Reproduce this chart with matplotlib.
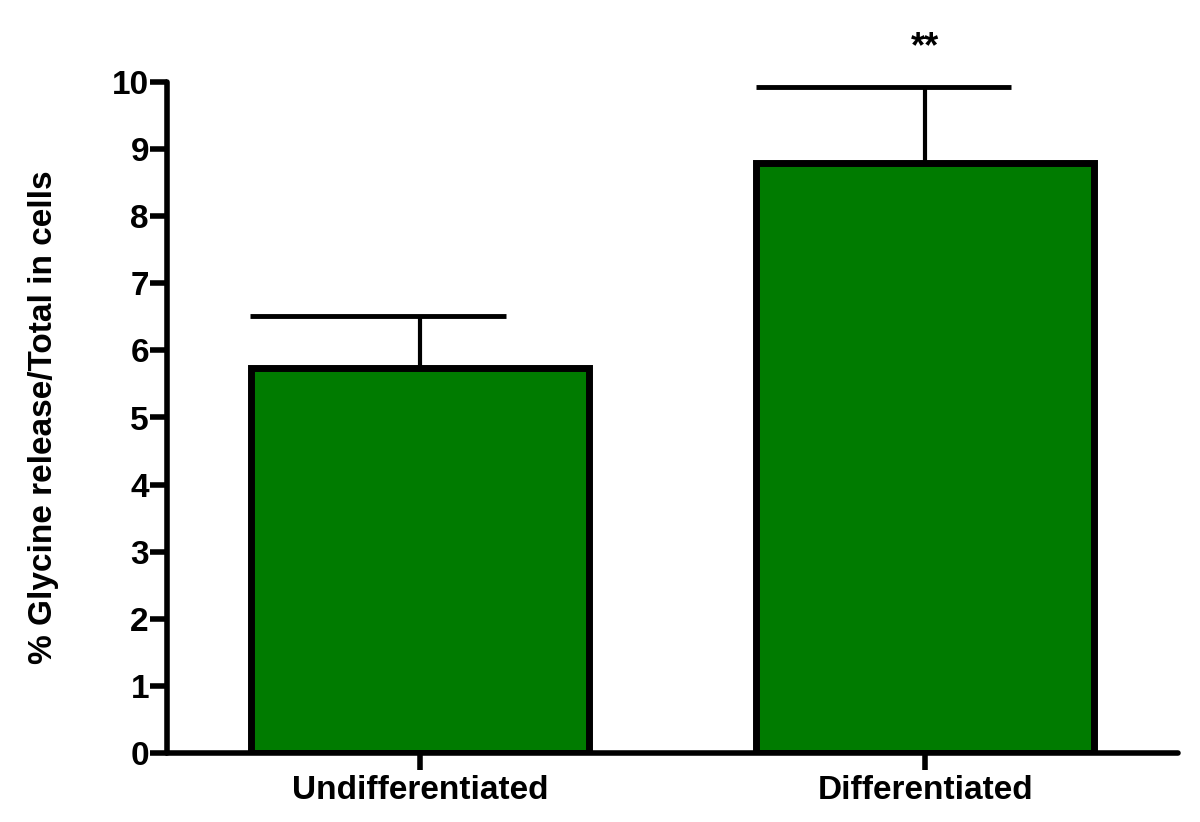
import matplotlib
matplotlib.use("Agg")
import matplotlib.pyplot as plt

categories = ["Undifferentiated", "Differentiated"]
values = [5.74, 8.79]
errors = [0.77, 1.14]
yticks = list(range(0, 11))
annotation = "**"

plt.rcParams['font.family'] = ['Liberation Sans', 'DejaVu Sans']
plt.rcParams['font.weight'] = 'bold'

fig = plt.figure(figsize=(12, 8.22), dpi=100)
ax = fig.add_axes([167/1200, 1 - 753/822, (1178-167)/1200, (753-82)/822])

x = list(range(len(categories)))
ax.bar(x, values, width=0.668, color='#007b00', edgecolor='black', linewidth=5, zorder=2)
# upper-only error bars
ax.errorbar(x, values, yerr=[[0]*len(values), errors], fmt='none', ecolor='black',
            elinewidth=3, capsize=0, zorder=1)
for xi, v, e in zip(x, values, errors):
    ax.hlines(v + e, xi - 0.335, xi + 0.17, color='black', linewidth=3.5, zorder=1)

ax.text(x[1], values[1] + errors[1] + 0.58, annotation, ha='center', va='center',
        fontsize=26, fontweight='bold', clip_on=False)

ax.set_xlim(-0.5, 1.5)
ax.set_ylim(0, 10)
ax.set_yticks(yticks)
ax.set_xticks(x)
ax.set_xticklabels(categories)
ax.set_ylabel("% Glycine release/Total in cells", fontsize=24, fontweight='bold', labelpad=38)

for s in ['top', 'right']:
    ax.spines[s].set_visible(False)
for s in ['left', 'bottom']:
    ax.spines[s].set_linewidth(4)
    ax.spines[s].set_capstyle('round')
ax.tick_params(axis='both', width=4, length=12, pad=4)
ax.tick_params(axis='y', pad=1, labelsize=24)
ax.tick_params(axis='x', labelsize=24, pad=4)

fig.savefig("out.png", dpi=100)
